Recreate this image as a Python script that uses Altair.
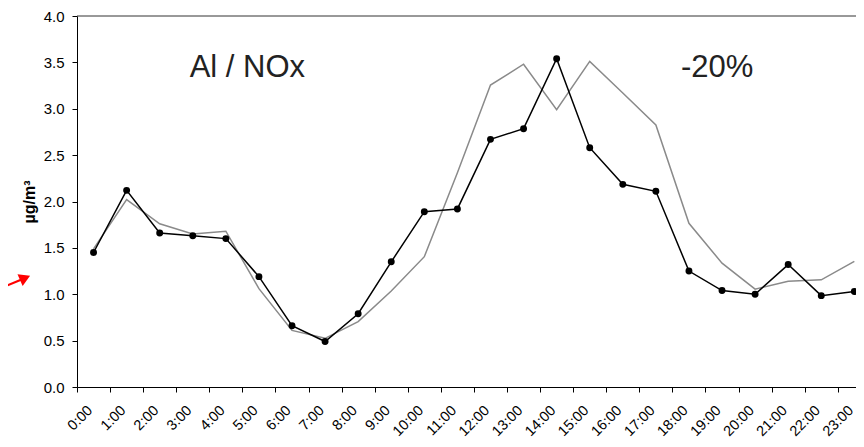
import json
import altair as alt
import pandas as pd

# ---- data ----
hours = list(range(24))
hour_labels = [f"{h}:00" for h in hours]
al_nox = [1.45, 2.12, 1.66, 1.63, 1.60, 1.19, 0.66, 0.49, 0.79, 1.35, 1.89, 1.92,
          2.67, 2.785, 3.54, 2.58, 2.185, 2.11, 1.25, 1.04, 1.00, 1.32, 0.985, 1.03]
scenario = [1.49, 2.02, 1.76, 1.65, 1.68, 1.06, 0.61, 0.525, 0.705, 1.035, 1.405, 2.31,
            3.255, 3.48, 2.99, 3.51, 3.17, 2.825, 1.765, 1.335, 1.055, 1.14, 1.155, 1.355]
y_ticks = [0.0, 0.5, 1.0, 1.5, 2.0, 2.5, 3.0, 3.5, 4.0]
ann_text = ["Al / NOx", "-20%"]
ann_x = [5.15, 19.35]
ann_y = [3.345, 3.345]
arrow_x = [-2.45, -1.62]
arrow_y = [1.045, 1.168]
frame_top = [4.0]

centers = [h + 0.5 for h in hours]
df_black = pd.DataFrame({"x": centers, "y": al_nox, "hour": hour_labels})
df_gray = pd.DataFrame({"x": centers, "y": scenario, "hour": hour_labels})
df_ann = pd.DataFrame({"x": ann_x, "y": ann_y, "t": ann_text})
df_arrow = pd.DataFrame({"x": arrow_x, "y": arrow_y})
df_head = pd.DataFrame({"x": arrow_x[-1:], "y": arrow_y[-1:]})
df_top = pd.DataFrame({"y": frame_top})

FONT = "Liberation Sans"
xscale = alt.Scale(domain=[0, 23.55], nice=False, zero=False)
yscale = alt.Scale(domain=[0, 4], nice=False)

label_expr = json.dumps(hour_labels) + "[datum.value]"
xaxis = alt.Axis(values=hours, labelExpr=label_expr, title=None, grid=False,
                 labelAngle=315, labelAlign="right", labelBaseline="middle",
                 labelOffset=13, labelPadding=16, tickSize=5, labelFontSize=14.5,
                 labelFont=FONT, labelColor="#000", domainColor="#000",
                 tickColor="#000", labelOverlap=False, labelFlush=False)
yaxis = alt.Axis(values=y_ticks, format=".1f", title="µg/m³", grid=False,
                 tickSize=5, labelPadding=8, labelFontSize=15, labelFont=FONT,
                 labelColor="#000", domainColor="#000", tickColor="#000",
                 titleFont=FONT, titleFontWeight="bold", titleFontSize=16,
                 titleColor="#000", titlePadding=6)

X = alt.X("x:Q", scale=xscale, axis=xaxis)
Y = alt.Y("y:Q", scale=yscale, axis=yaxis)

top = alt.Chart(df_top).mark_rule(color="#333", strokeWidth=1).encode(y=Y)
gray = alt.Chart(df_gray).mark_line(color="#8a8a8a", strokeWidth=1.5).encode(x=X, y=Y)
black = alt.Chart(df_black).mark_line(color="#000", strokeWidth=1.5).encode(x=X, y=Y)
pts = alt.Chart(df_black).mark_point(filled=True, color="#000", size=48, opacity=1).encode(x=X, y=Y)
ann = alt.Chart(df_ann).mark_text(font=FONT, fontSize=31, color="#222", align="center",
                                  baseline="alphabetic").encode(x=X, y=Y, text="t:N")
arrow = alt.Chart(df_arrow).mark_line(color="#ff0000", strokeWidth=2.2).encode(x=X, y=Y)
head = alt.Chart(df_head).mark_point(shape="triangle", filled=True, color="#ff0000",
                                     size=160, angle=66, opacity=1).encode(x=X, y=Y)

chart = alt.layer(top, gray, black, pts, ann, arrow, head).properties(
    width=779, height=371,
    autosize=alt.AutoSizeParams(type="none"),
    padding={"left": 69, "top": 8, "right": 0, "bottom": 52},
).configure_view(stroke=None)

chart.save("out.html", embed_options={"renderer": "svg", "actions": False})
